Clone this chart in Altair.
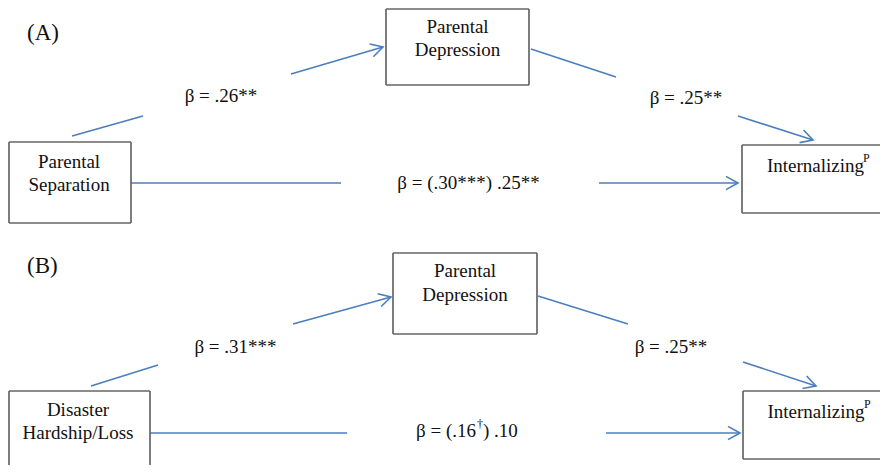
import math
import altair as alt
import pandas as pd

# ---- boxes (page pixel coordinates of the diagram) ----
box_id = ["A_sep", "A_dep", "A_int", "B_dis", "B_dep", "B_int"]
box_x1 = [9, 386, 742, 9, 393, 743]
box_x2 = [131, 529, 905, 150, 537, 905]
box_y1 = [142, 9, 145, 391, 253, 391]
box_y2 = [223, 85, 213, 480, 334, 459]

# ---- path segments (broken around the coefficient labels) ----
seg_x1 = [72, 291, 531, 738, 131, 599, 91, 293, 538, 743, 150, 606]
seg_y1 = [136, 74, 49, 116, 183, 183, 386, 324, 296, 362, 433, 433]
seg_x2 = [143, 383, 616, 813, 341, 738, 158, 391, 628, 816, 347, 740]
seg_y2 = [116, 47, 77, 140, 183, 183, 365, 297, 324, 386, 433, 433]
seg_arrow = [False, True, False, True, False, True,
             False, True, False, True, False, True]

# ---- text labels ----
txt_label = ["(A)", "(B)",
             "Parental", "Separation", "Parental", "Depression",
             "β = .26**", "β = .25**", "β = (.30***) .25**", "Internalizing",
             "Disaster", "Hardship/Loss", "Parental", "Depression",
             "β = .31***", "β = .25**", "Internalizing",
             "P", "P",
             "β = (.16", "†", ") .10"]
txt_x = [27, 27,
         69, 69, 457.5, 457.5,
         221, 686, 468.5, 815.5,
         78, 78, 465, 465,
         235.5, 671, 816,
         863, 864,
         476, 477, 483]
txt_y = [40, 273,
         168, 191, 33, 56,
         102, 104, 189, 172,
         416, 439, 277, 301,
         353, 353, 418,
         162, 408,
         437, 428, 437]
txt_size = [23, 23,
            19, 19, 19, 19,
            19, 19, 19, 19,
            19, 19, 19, 19,
            19, 19, 19,
            12, 12,
            19, 12, 19]
txt_align = ["left", "left",
             "center", "center", "center", "center",
             "center", "center", "center", "center",
             "center", "center", "center", "center",
             "center", "center", "center",
             "left", "left",
             "right", "left", "left"]

LINE = "#4a7ebf"
BOX = "#666666"
FONT = "Liberation Serif"
X_MIN, X_MAX, Y_MIN, Y_MAX = 8, 880, 8, 465

boxes = pd.DataFrame({"id": box_id, "x1": box_x1, "x2": box_x2,
                      "y1": box_y1, "y2": box_y2})

# box outlines as four sides; sides outside the picture are dropped and
# sides running past its edge are cut at the edge
sides = []
for b in boxes.itertuples():
    cand = [
        (b.x1, b.y1, b.x2, b.y1),  # top
        (b.x1, b.y2, b.x2, b.y2),  # bottom
        (b.x1, b.y1, b.x1, b.y2),  # left
        (b.x2, b.y1, b.x2, b.y2),  # right
    ]
    for (a, c, d, e) in cand:
        if max(a, d) < X_MIN or min(a, d) > X_MAX:
            continue
        if max(c, e) < Y_MIN or min(c, e) > Y_MAX:
            continue
        sides.append({"x1": max(a, X_MIN), "y1": max(c, Y_MIN),
                      "x2": min(d, X_MAX), "y2": min(e, Y_MAX)})
sides = pd.DataFrame(sides)

segs = pd.DataFrame({"x1": seg_x1, "y1": seg_y1, "x2": seg_x2,
                     "y2": seg_y2, "arrow": seg_arrow})
arrows = segs[segs["arrow"]].copy()
arrows["angle"] = [
    math.degrees(math.atan2(r.y2 - r.y1, r.x2 - r.x1)) % 360
    for r in arrows.itertuples()
]
texts = pd.DataFrame({"label": txt_label, "x": txt_x, "y": txt_y,
                      "size": txt_size, "align": txt_align})

xs = alt.Scale(domain=[X_MIN, X_MAX], nice=False, zero=False)
ys = alt.Scale(domain=[Y_MIN, Y_MAX], nice=False, zero=False, reverse=True)

box_layer = alt.Chart(sides).mark_rule(
    color=BOX, strokeWidth=1.7
).encode(
    x=alt.X("x1:Q", scale=xs, axis=None), x2="x2:Q",
    y=alt.Y("y1:Q", scale=ys, axis=None), y2="y2:Q",
)

seg_layer = alt.Chart(segs).mark_rule(
    color=LINE, strokeWidth=1.6
).encode(
    x=alt.X("x1:Q", scale=xs, axis=None), x2="x2:Q",
    y=alt.Y("y1:Q", scale=ys, axis=None), y2="y2:Q",
)

arrow_layer = alt.Chart(arrows).mark_point(
    shape="M -1 -0.55 L 0 0 L -1 0.55", filled=False,
    stroke=LINE, strokeWidth=1.6, size=576, opacity=1
).encode(
    x=alt.X("x2:Q", scale=xs, axis=None),
    y=alt.Y("y2:Q", scale=ys, axis=None),
    angle=alt.Angle("angle:Q", scale=None),
)

def text_layer(al):
    d = texts[texts["align"] == al]
    return alt.Chart(d).mark_text(
        font=FONT, align=al, baseline="alphabetic", color="#111111"
    ).encode(
        x=alt.X("x:Q", scale=xs, axis=None),
        y=alt.Y("y:Q", scale=ys, axis=None),
        text="label:N",
        size=alt.Size("size:Q", scale=None),
    )

chart = alt.layer(
    seg_layer, arrow_layer, box_layer,
    text_layer("center"), text_layer("left"), text_layer("right"),
).properties(
    width=X_MAX - X_MIN, height=Y_MAX - Y_MIN, padding=0,
    autosize=alt.AutoSizeParams(type="none"),
    background="white",
).configure_view(stroke=None)

chart.save("out.html", embed_options={"renderer": "svg", "actions": False})
